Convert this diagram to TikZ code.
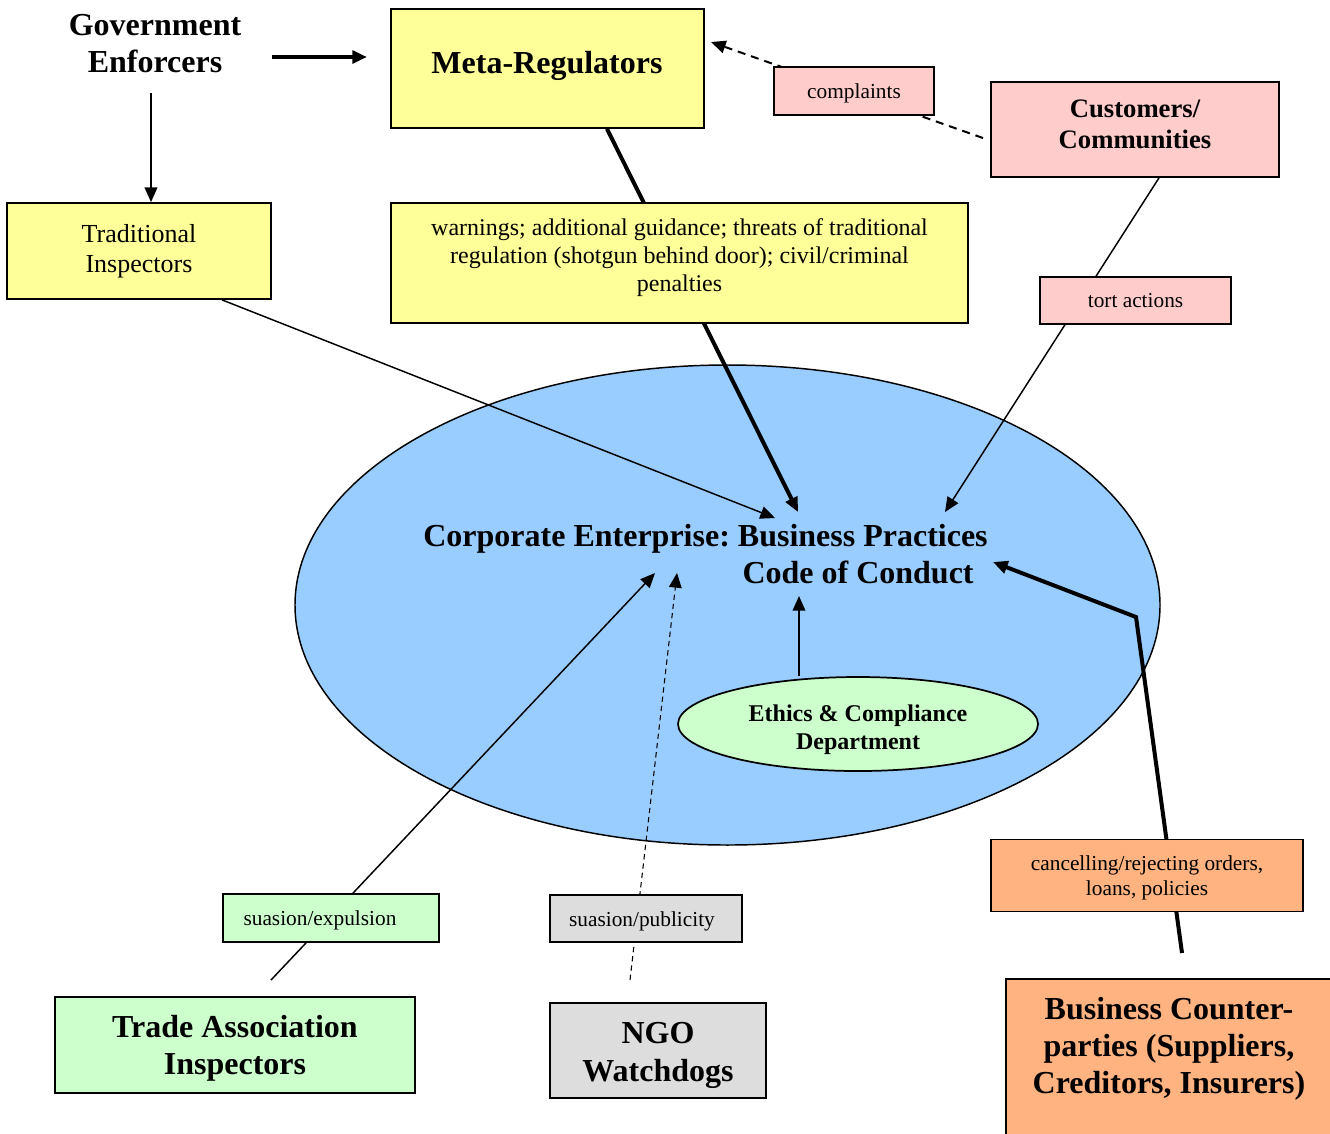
\documentclass[tikz,border=0pt]{standalone}
\usepackage{fontspec}
\setmainfont{Liberation Serif}
\usetikzlibrary{arrows.meta,shapes.geometric}
\definecolor{cyel}{HTML}{FFFF99}
\definecolor{cpink}{HTML}{FFCCCC}
\definecolor{cgrn}{HTML}{CCFFCC}
\definecolor{cgry}{HTML}{DDDDDD}
\definecolor{corg}{HTML}{FFB380}
\definecolor{cblu}{HTML}{99CCFF}
\pgfdeclarelayer{bg}
\pgfdeclarelayer{wires}
\pgfsetlayers{bg,wires,main}
\frenchspacing
\begin{document}
\begin{tikzpicture}[x=0.75pt,y=-0.75pt,
  box/.style={draw=black, line width=1.3pt, rectangle, inner sep=0pt, align=center},
  wthin/.style={line width=1.1pt},
  wthick/.style={line width=3pt},
  tip/.style={-{Triangle[length=11pt,width=9.5pt]}},
  bigB/.style={font=\bfseries\fontsize{24}{27.75}\selectfont, align=center},
  midB/.style={font=\bfseries\fontsize{20}{23.25}\selectfont, align=center},
  smallR/.style={font=\fontsize{16}{18.5}\selectfont, align=center},
]
\path[use as bounding box] (0,0) rectangle (1330,1133);
\clip (0,0) rectangle (1330,1133);

% background ellipses
\begin{pgfonlayer}{bg}
\node[draw, line width=1.1pt, ellipse, fill=cblu, minimum width=648.75pt, minimum height=360pt, inner sep=0pt] (corp) at (727.5,605) {};
\node[draw, line width=1.3pt, ellipse, fill=cgrn, minimum width=270pt, minimum height=70.5pt, inner sep=0pt] (ethics) at (858,724) {};
\end{pgfonlayer}
\node[font=\bfseries\fontsize{18}{21}\selectfont, align=center] (ethicsT) at (858,730) {Ethics \& Compliance\\Department};

% texts and boxes
\node[bigB, align=right] (corpT) at (705.5,554.5) {Corporate Enterprise: Business Practices\\Code of Conduct\hspace*{10.5pt}};
\node[bigB] (gov) at (155,44) {Government\\Enforcers};
\node[box, fill=cyel, minimum width=234.75pt, minimum height=89.25pt] (meta) at (547.5,68.5) {};
\node[bigB] (metaT) at (547,65.5) {Meta-Regulators};
\node[box, fill=cyel, minimum width=198pt, minimum height=72pt, font=\fontsize{19.5}{22.5}\selectfont] (trad) at (139,251) {Traditional\\Inspectors};
\node[box, fill=cyel, minimum width=432.75pt, minimum height=90pt] (warn) at (679.5,263) {};
\node[font=\fontsize{18}{21}\selectfont, align=center] (warnT) at (679.5,258) {warnings; additional guidance; threats of traditional\\regulation (shotgun behind door); civil/criminal\\penalties};
\node[box, fill=cpink, minimum width=120pt, minimum height=36pt] (compl) at (854,91) {};
\node[smallR] (complT) at (854,93) {complaints};
\node[box, fill=cpink, minimum width=216pt, minimum height=71.25pt] (cust) at (1135,129.5) {};
\node[midB] (custT) at (1135,124.5) {Customers/\\Communities};
\node[box, fill=cpink, minimum width=143.25pt, minimum height=35.25pt, smallR] (tort) at (1135.5,300.5) {tort actions};
\node[box, fill=corg, minimum width=234pt, minimum height=54pt] (cancel) at (1147,875.5) {};
\node[font=\fontsize{16}{18.5}\selectfont, align=center] (cancelT) at (1147,878) {cancelling/rejecting orders,\\loans, policies};
\node[box, fill=corg, minimum width=254.25pt, minimum height=128.25pt] (busi) at (1175.5,1064.5) {};
\node[bigB] (busiT) at (1169,1049) {Business Counter-\\parties (Suppliers,\\Creditors, Insurers)};
\node[box, fill=cgrn, minimum width=162pt, minimum height=36pt] (sexp) at (331,918) {};
\node[smallR] (sexpT) at (320,920.5) {suasion/expulsion};
\node[box, fill=cgry, minimum width=144pt, minimum height=35.25pt] (spub) at (646,918.5) {};
\node[smallR] (spubT) at (642,921) {suasion/publicity};
\node[box, fill=cgrn, minimum width=270pt, minimum height=72pt] (trade) at (235,1045) {};
\node[bigB] (tradeT) at (235,1048) {Trade Association\\Inspectors};
\node[box, fill=cgry, minimum width=162pt, minimum height=71.25pt] (ngo) at (658,1050.5) {};
\node[font=\bfseries\fontsize{24}{28}\selectfont, align=center] (ngoT) at (658,1055.5) {NGO\\Watchdogs};

% connector end points
\coordinate (govR) at (272,57);
\coordinate (metaIn) at (367,57);
\coordinate (govD) at (151,93);
\coordinate (tipTrad) at (775,518);
\coordinate (tipMeta) at (798,512);
\coordinate (tipCust) at (945,512);
\coordinate (custOut) at (983,138);
\coordinate (metaTip) at (711,42);
\coordinate (busiOut) at (1182,953);
\coordinate (bend) at (1136,617);
\coordinate (tipBusi) at (993,562);
\coordinate (tipEth) at (799,596);
\coordinate (tradeOut) at (271,980);
\coordinate (tipTrade) at (655,573);
\coordinate (ngoOut) at (630,980);
\coordinate (tipNgo) at (677,573);

\begin{pgfonlayer}{wires}
\draw[wthick, tip] (govR) -- (metaIn);
\draw[wthin, tip] (govD) -- ([xshift=9pt]trad.north);
\draw[wthin, tip] ([xshift=62.25pt]trad.south) -- (tipTrad);
\draw[wthick, tip] ([xshift=44.6pt]meta.south) -- (tipMeta);
\draw[wthin, tip] ([xshift=18pt]cust.south) -- (tipCust);
\draw[line width=1.5pt, dash pattern=on 6pt off 4.5pt, tip] (custOut) -- (metaTip);
\draw[wthick, tip] (busiOut) -- (bend) -- (tipBusi);
\draw[wthin, tip] (ethics.north -| tipEth) -- (tipEth);
\draw[wthin, tip] (tradeOut) -- (tipTrade);
\draw[line width=0.8pt, dash pattern=on 4pt off 3pt, tip] (ngoOut) -- (tipNgo);
\end{pgfonlayer}
\end{tikzpicture}
\end{document}
